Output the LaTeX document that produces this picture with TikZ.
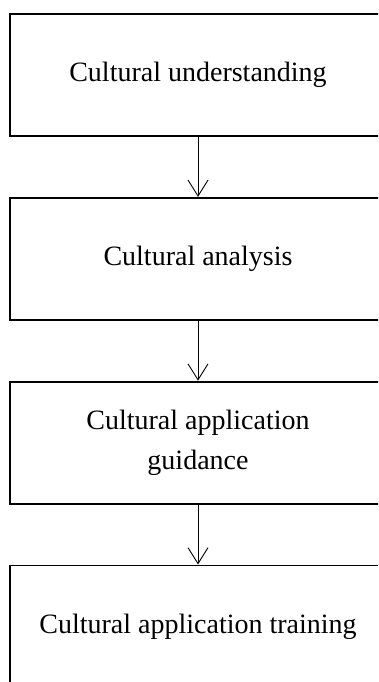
\documentclass[tikz,border=0pt]{standalone}
\usepackage{fontspec}
\setmainfont{Liberation Serif}
\usetikzlibrary{positioning,arrows.meta}

\begin{document}
\begin{tikzpicture}[
    Stage/.style={
        rectangle,
        draw,
        line width=1.8pt,
        minimum width=376pt,
        minimum height=122pt,
        align=center,
        font=\fontsize{28}{40}\selectfont
    },
    Flow/.style={
        -{Straight Barb[length=16pt,width=20pt]},
        line width=0.9pt
    }
    ]
    \useasboundingbox (0,0) rectangle (378pt,-682pt);
    \clip (0,0) rectangle (378pt,-682pt);
    \node[Stage] (understanding) at (198pt,-75pt) {Cultural understanding};
    \node[Stage] (analysis) [below=60pt of understanding] {Cultural analysis};
    \node[Stage] (guidance) [below=60pt of analysis] {Cultural application\\guidance};
    \node[Stage] (training) [below=60pt of guidance] {Cultural application training};

    \draw[Flow] (understanding) -- (analysis);
    \draw[Flow] (analysis) -- (guidance);
    \draw[Flow] (guidance) -- (training);
\end{tikzpicture}
\end{document}
